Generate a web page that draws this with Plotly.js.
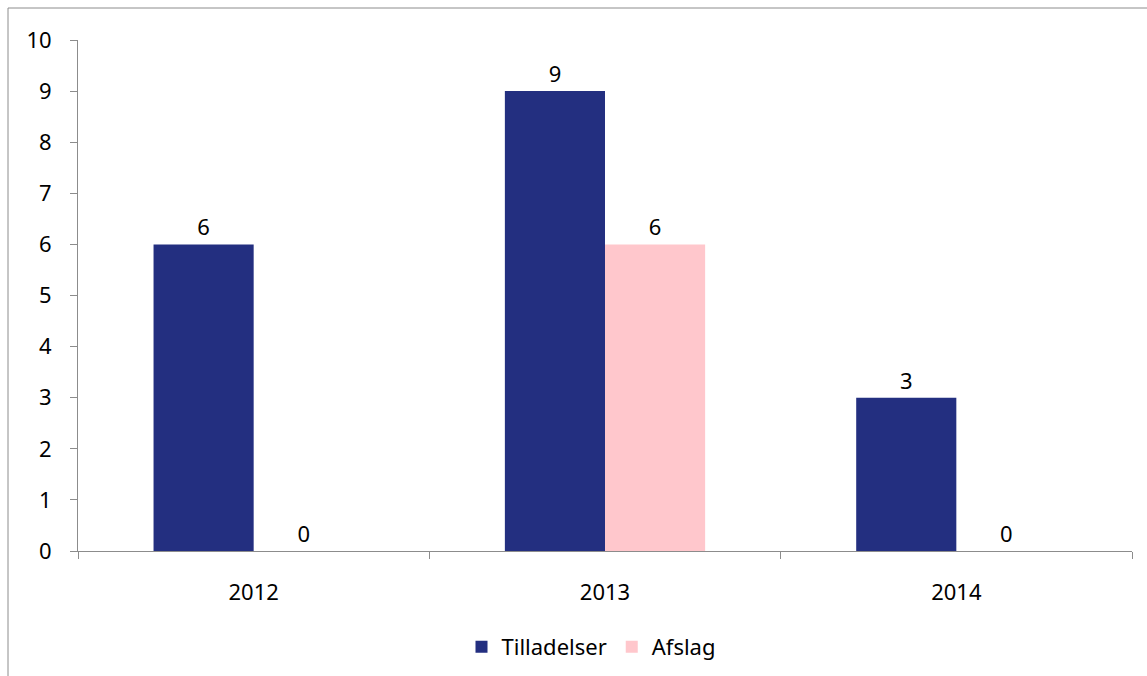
<!DOCTYPE html>
<html>
<head>
<meta charset="utf-8">
<script src="https://cdn.plot.ly/plotly-3.0.1.min.js"></script>
<style>
html,body{margin:0;padding:0;background:#fff;}
#chart{width:1147px;height:676px;}
</style>
</head>
<body>
<div id="chart"></div>
<script>
const years = ["2012", "2013", "2014"];
const tilladelser = [6, 9, 3];
const afslag = [0, 6, 0];
const seriesNames = ["Tilladelser", "Afslag"];
const colors = ["#232F80", "#FFC7CC"];

const W = 1147, H = 676;
const margin = {l: 78, r: 15, t: 40, b: 125, autoexpand: false};
const pw = W - margin.l - margin.r, ph = H - margin.t - margin.b;
const px = x => (x - margin.l) / pw;
const py = y => (H - margin.b - y) / ph;

const font = {family: "Noto Sans, Open Sans, Liberation Sans, sans-serif", size: 22, color: "#000"};

const traces = [tilladelser, afslag].map((vals, i) => ({
  type: "bar",
  name: seriesNames[i],
  x: years,
  y: vals,
  marker: {color: colors[i], line: {width: 0}},
  text: vals.map(String),
  textposition: "outside",
  textfont: font,
  cliponaxis: false,
  hoverinfo: "x+y+name"
}));

const layout = {
  width: W, height: H,
  margin: margin,
  paper_bgcolor: "#fff",
  plot_bgcolor: "#fff",
  font: font,
  barmode: "group",
  bargap: 0.43,
  bargroupgap: 0,
  showlegend: true,
  legend: {
    orientation: "h",
    x: px(591), xanchor: "center",
    y: py(647), yanchor: "middle",
    font: font,
    itemwidth: 30,
    traceorder: "normal"
  },
  xaxis: {
    type: "category",
    automargin: false,
    showgrid: false,
    zeroline: false,
    showline: true,
    linecolor: "#8c8c8c",
    linewidth: 1,
    ticks: "outside",
    tickson: "boundaries",
    ticklen: 7,
    tickcolor: "#8c8c8c",
    ticklabelstandoff: 22,
    tickfont: font,
    fixedrange: true
  },
  yaxis: {
    range: [0, 10],
    dtick: 1,
    automargin: false,
    showgrid: false,
    zeroline: false,
    showline: true,
    linecolor: "#8c8c8c",
    linewidth: 1,
    ticks: "outside",
    ticklen: 7,
    tickcolor: "#8c8c8c",
    ticklabelstandoff: 14,
    tickfont: font,
    fixedrange: true
  },
  shapes: [{
    type: "rect",
    xref: "paper", yref: "paper",
    x0: px(8), x1: px(1200),
    y0: py(720), y1: py(8),
    line: {color: "#8c8c8c", width: 1},
    fillcolor: "rgba(0,0,0,0)",
    layer: "below"
  }]
};

Plotly.newPlot("chart", traces, layout, {displayModeBar: false, staticPlot: true});
</script>
</body>
</html>
